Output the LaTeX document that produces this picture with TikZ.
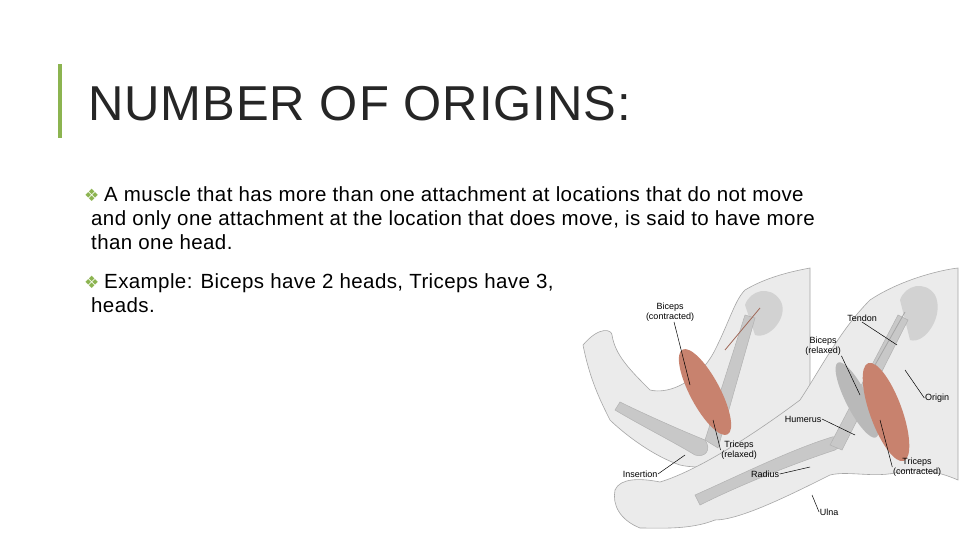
\documentclass[tikz,border=0pt]{standalone}
\usepackage{fontspec}
\setmainfont{Liberation Sans}
\newfontfamily\symfont{DejaVu Sans}
\definecolor{accent}{RGB}{140,180,80}
\definecolor{muscle}{RGB}{200,130,110}
\definecolor{skin}{RGB}{235,235,235}
\definecolor{bone}{RGB}{200,200,200}
\begin{document}
\begin{tikzpicture}[x=1pt,y=-1pt,
  lbl/.style={font=\fontsize{9}{10}\selectfont,align=center,inner sep=0.5pt},
  lead/.style={draw=black,line width=0.5pt},
  arm/.style={draw=gray!70,fill=skin,line width=0.6pt},
  bonestyle/.style={draw=gray!60,fill=bone,line width=0.5pt},
  txt/.style={font=\fontsize{20.5}{24}\selectfont\addfontfeatures{LetterSpace=2},anchor=base west,inner sep=0}]
\useasboundingbox[fill=white] (0,0) rectangle (960,540);
\fill[accent] (58,64) rectangle (62,138);
\node[anchor=base west,inner sep=0,text=black!85,font=\fontsize{49}{54}\selectfont\addfontfeatures{LetterSpace=2}] (title) at (88,121) {NUMBER OF ORIGINS:};
\node[txt,text=accent] (b1) at (84,201) {\symfont\fontsize{17}{19}\selectfont ❖};
\node[txt] (t1) at (104,201) {A muscle that has more than one attachment at locations that do not move};
\node[txt] (t2) at (91,225) {and only one attachment at the location that does move, is said to have more};
\node[txt] (t3) at (91,249) {than one head.};
\node[txt,text=accent] (b2) at (84,288) {\symfont\fontsize{17}{19}\selectfont ❖};
\node[txt] (t4) at (104,288) {Example: Biceps have 2 heads, Triceps have 3,};
\node[txt] (t5) at (91,312) {heads.};
% image area
\fill[white] (575,265) rectangle (960,540);
% left arm
\path[arm] (583,345) .. controls (600,325) and (612,330) .. (612,335)
  .. controls (615,355) and (630,370) .. (650,390)
  .. controls (670,395) and (700,380) .. (715,350)
  .. controls (730,320) and (735,300) .. (745,290)
  .. controls (770,275) and (800,270) .. (810,268)
  -- (810,400) .. controls (800,420) and (780,440) .. (760,455)
  .. controls (740,465) and (700,470) .. (680,465)
  .. controls (650,455) and (620,430) .. (610,420)
  .. controls (600,400) and (590,380) .. (583,345) -- cycle;
\fill[gray!35] (745,305) .. controls (750,290) and (770,285) .. (780,300) .. controls (790,315) and (770,340) .. (755,335) -- cycle;
\path[bonestyle] (615,410) .. controls (640,425) and (670,440) .. (695,455) .. controls (705,458) and (712,450) .. (705,440) .. controls (680,430) and (640,412) .. (620,402) -- cycle;
\path[bonestyle] (705,440) -- (745,315) -- (755,318) -- (718,448) -- cycle;
\fill[muscle,rotate around={-62:(705,392)}] (705,392) ellipse (48 and 15);
\draw[muscle!80!black,line width=0.8pt] (725,350) -- (760,308);
% right arm
\path[arm] (615,490) .. controls (620,478) and (640,478) .. (660,482)
  .. controls (700,470) and (760,430) .. (800,400)
  .. controls (820,370) and (840,330) .. (870,300)
  .. controls (900,280) and (940,270) .. (958,268)
  -- (958,480) .. controls (935,470) and (920,470) .. (905,470)
  .. controls (880,480) and (850,470) .. (830,475)
  .. controls (790,495) and (740,520) .. (715,520)
  .. controls (690,530) and (660,528) .. (640,528)
  .. controls (620,520) and (612,505) .. (615,490) -- cycle;
\fill[gray!35] (900,300) .. controls (905,285) and (925,280) .. (935,295) .. controls (945,315) and (925,345) .. (910,340) -- cycle;
\path[bonestyle] (700,505) .. controls (740,485) and (790,465) .. (835,450) .. controls (845,445) and (842,435) .. (832,437) .. controls (790,450) and (740,475) .. (695,495) -- cycle;
\path[bonestyle] (830,445) -- (898,315) -- (908,320) -- (842,450) -- cycle;
\fill[gray!55,rotate around={-63:(857,400)}] (857,400) ellipse (42 and 11);
\fill[muscle,rotate around={-70:(886,412)}] (886,412) ellipse (52 and 16);
\draw[gray!70,line width=0.8pt] (875,365) -- (905,312);
% labels
\node[lbl] (bc) at (670,312) {Biceps\\(contracted)};
\node[lbl] (ten) at (862,318) {Tendon};
\node[lbl] (br) at (823,346) {Biceps\\(relaxed)};
\node[lbl] (ori) at (937,398) {Origin};
\node[lbl] (hum) at (803,419) {Humerus};
\node[lbl] (trr) at (739,450) {Triceps\\(relaxed)};
\node[lbl] (ins) at (640,474) {Insertion};
\node[lbl] (rad) at (765,474) {Radius};
\node[lbl] (trc) at (917,467) {Triceps\\(contracted)};
\node[lbl] (uln) at (829,512) {Ulna};
\coordinate (pbc) at (690,385);
\coordinate (pten) at (897,345);
\coordinate (pbr) at (860,395);
\coordinate (pori) at (905,370);
\coordinate (phum) at (855,435);
\coordinate (ptrr) at (713,420);
\coordinate (pins) at (685,455);
\coordinate (prad) at (810,467);
\coordinate (ptrc) at (880,420);
\coordinate (puln) at (812,495);
\draw[lead] (bc.south) ++(4,0) -- (pbc);
\draw[lead] (ten.south) -- (pten);
\draw[lead] (br.south east) -- (pbr);
\draw[lead] (ori.west) -- (pori);
\draw[lead] (hum.east) -- (phum);
\draw[lead] (trr.west) -- (ptrr);
\draw[lead] (ins.east) -- (pins);
\draw[lead] (rad.east) -- (prad);
\draw[lead] (trc.west) -- (ptrc);
\draw[lead] (uln.west) -- (puln);
\end{tikzpicture}
\end{document}
